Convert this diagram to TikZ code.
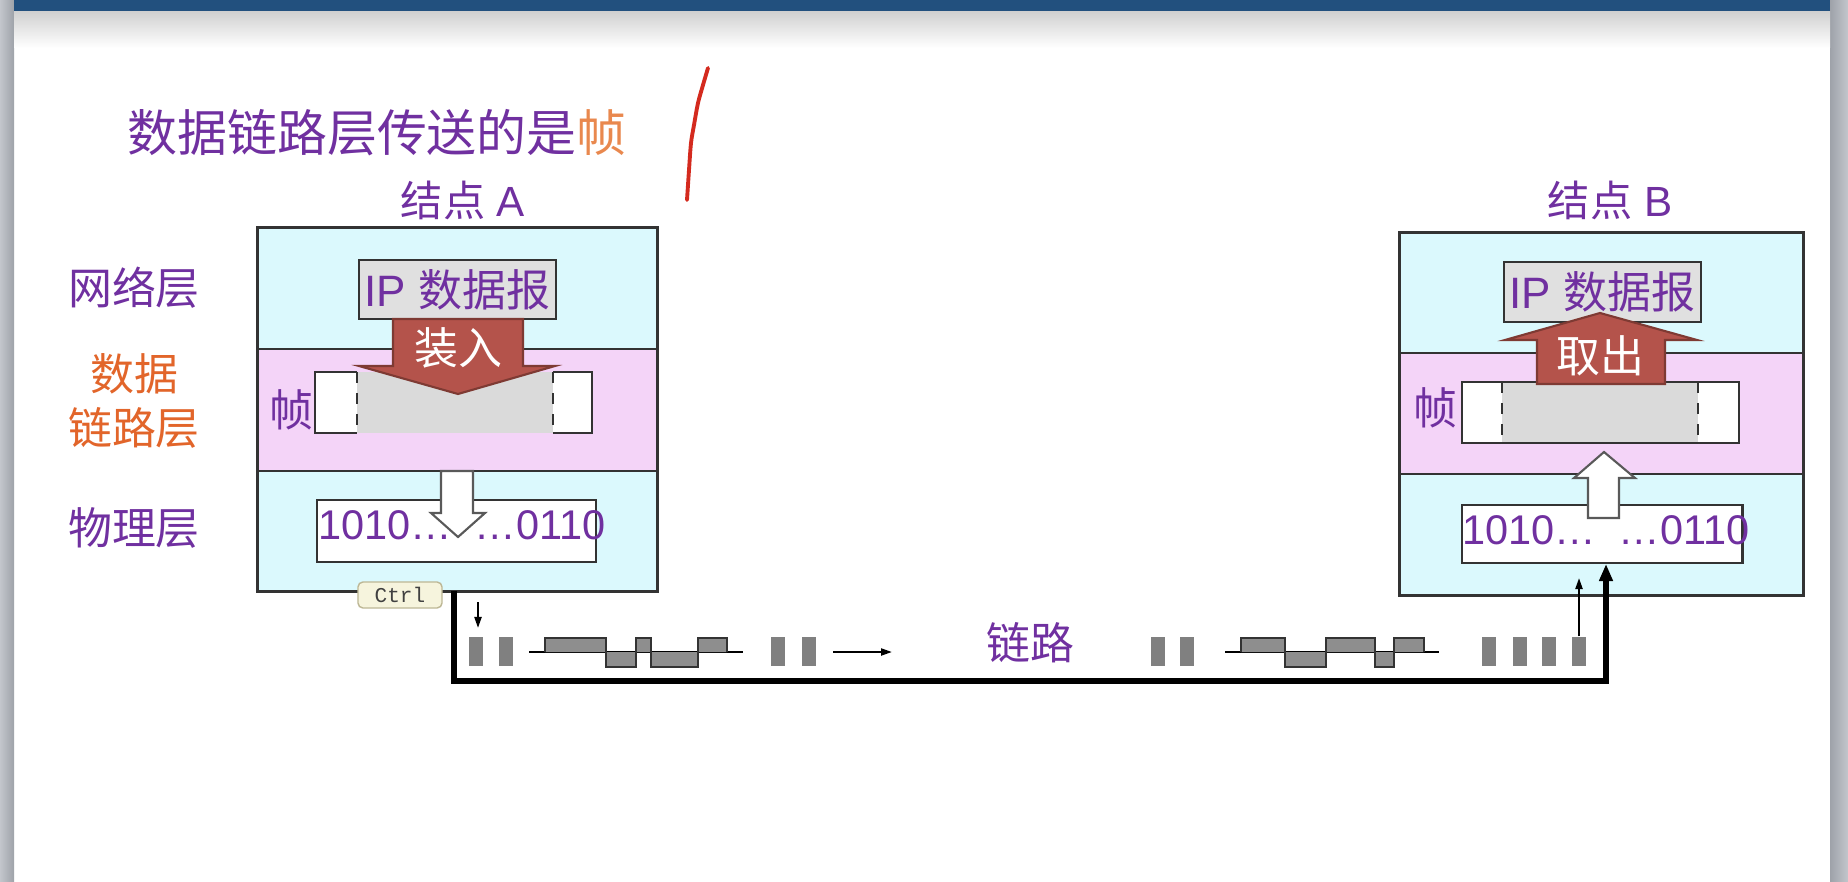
\documentclass[tikz,border=0pt]{standalone}
\usepackage{fontspec}
\setmainfont{Liberation Sans}
\setmonofont{Liberation Mono}
\newfontfamily\cjk{Noto Sans CJK SC}
\usetikzlibrary{arrows.meta}
\definecolor{purp}{HTML}{7030A0}
\definecolor{orng}{HTML}{E2652A}
\definecolor{orngL}{HTML}{E9884E}
\definecolor{cyanF}{HTML}{DBF9FD}
\definecolor{pinkF}{HTML}{F4D4F8}
\definecolor{grayF}{HTML}{DADADA}
\definecolor{ipF}{HTML}{E0E0E0}
\definecolor{brownA}{HTML}{B4534B}
\definecolor{brownB}{HTML}{7E3A33}
\definecolor{barG}{HTML}{808080}
\definecolor{waveG}{HTML}{8E8E8E}
\definecolor{hdrblue}{HTML}{22507E}
\definecolor{sideL}{HTML}{C3C6CC}
\definecolor{sideD}{HTML}{9EA2A9}
\definecolor{tipF}{HTML}{F6F4DD}
\definecolor{tipD}{HTML}{BDB795}
\definecolor{penred}{HTML}{D42A1E}
\definecolor{edge}{HTML}{333333}
\newcommand\fsTitle{\fontsize{14.2pt}{17pt}\selectfont}
\newcommand\fsLab{\fontsize{12.5pt}{15.2pt}\selectfont}
\newcommand\fsNode{\fontsize{12pt}{14pt}\selectfont}
\newcommand\fsBits{\fontsize{11.8pt}{14pt}\selectfont}
\begin{document}
\begin{tikzpicture}[x=0.01cm,y=-0.01cm,
  lbl/.style={inner sep=0pt, text=purp},
  box/.style={draw=edge, line width=0.8pt, inner sep=0pt},
  bigarrow/.style={fill=brownA, draw=brownB, line width=0.6pt},
  whitearrow/.style={fill=white, draw=gray!70!black, line width=0.6pt},
  bar/.style={fill=barG, inner sep=0pt, minimum width=0.14cm, minimum height=0.29cm},
  wave/.style={fill=waveG, draw=black!80, line width=0.7pt},
  thinarrow/.style={line width=0.6pt, -{Triangle[length=0.11cm,width=0.07cm]}},
  linkarrow/.style={line width=1.7pt, -{Triangle[length=0.17cm,width=0.13cm]}},
  divider/.style={draw=edge, line width=0.8pt},
]
\useasboundingbox (0,0) rectangle (1848,882);
\fill[white] (0,0) rectangle (1848,882);
% window frame
\shade[left color=sideL, right color=sideD] (0,0) rectangle (14,882);
\shade[left color=sideD, right color=sideL] (1830,0) rectangle (1848,882);
\fill[hdrblue] (14,0) rectangle (1830,12);
\shade[top color=black!18, bottom color=white] (14,12) rectangle (1830,48);

% title and pen stroke
\node[lbl, font=\fsTitle\cjk] (title) at (377,133) {数据链路层传送的是\textcolor{orngL}{帧}};
\draw[penred, line width=1.1pt, line cap=round] plot[smooth] coordinates {(708,68) (703,85) (698,103) (694,125) (691,143) (689,170) (687,200)};

% layer labels
\node[lbl, font=\fsLab\cjk] (netL) at (134,288) {网络层};
\node[lbl, font=\fsLab\cjk, text=orng, align=center] (dlL) at (134,401) {数据\\链路层};
\node[lbl, font=\fsLab\cjk] (phyL) at (134,528) {物理层};

% ---------------- node A ----------------
\node[lbl, font=\fsNode] (nameA) at (463,200) {{\cjk 结点} A};
\fill[cyanF] (258,228) rectangle (657,349);
\fill[pinkF] (258,349) rectangle (657,471);
\fill[cyanF] (258,471) rectangle (657,591);
\node[box, minimum width=3.99cm, minimum height=3.63cm] (boxA) at (457.5,409.5) {};
\draw[divider] (258,349) -- (657,349) (258,471) -- (657,471);

\node[box, fill=ipF, minimum width=1.97cm, minimum height=0.59cm, font=\fsLab, text=purp] (ipA) at (457.5,289.5) {IP {\cjk 数据报}};

% frame being filled
\fill[grayF] (357,372) rectangle (553,433);
\filldraw[fill=white, draw=edge, line width=0.8pt] (357,372) -- (315,372) -- (315,433) -- (357,433);
\filldraw[fill=white, draw=edge, line width=0.8pt] (553,372) -- (592,372) -- (592,433) -- (553,433);
\draw[edge, dashed, line width=0.8pt] (357,372) -- (357,433) (553,372) -- (553,433);
\node[lbl, font=\fsLab\cjk] (zhenA) at (291,410) {帧};

\filldraw[bigarrow] (393,319) -- (523,319) -- (523,366) -- (555,366) -- (458,394) -- (359,366) -- (393,366) -- cycle;
\node[inner sep=0pt, text=white, font=\fsLab\cjk] (loadT) at (458,348) {装入};

\node[box, fill=white, minimum width=2.79cm, minimum height=0.62cm] (phyA) at (456.5,531) {};
\node[lbl, font=\fsBits] (bitsA) at (462,525) {1010…\hspace{0.55em}…0110};
\filldraw[whitearrow] (441,471) -- (473,471) -- (473,513) -- (485,513) -- (458,537) -- (431,513) -- (441,513) -- cycle;

% ---------------- node B ----------------
\node[lbl, font=\fsNode] (nameB) at (1610,200) {{\cjk 结点} B};
\fill[cyanF] (1400,233) rectangle (1803,353);
\fill[pinkF] (1400,353) rectangle (1803,474);
\fill[cyanF] (1400,474) rectangle (1803,595);
\node[box, minimum width=4.03cm, minimum height=3.62cm] (boxB) at (1601.5,414) {};
\draw[divider] (1400,353) -- (1803,353) (1400,474) -- (1803,474);

\node[box, fill=ipF, minimum width=1.97cm, minimum height=0.60cm, font=\fsLab, text=purp] (ipB) at (1602.5,292) {IP {\cjk 数据报}};

\filldraw[fill=white, draw=edge, line width=0.8pt] (1462,382) rectangle (1739,443);
\fill[grayF] (1502,383) rectangle (1698,442);
\draw[edge, dashed, line width=0.8pt] (1502,382) -- (1502,443) (1698,382) -- (1698,443);
\node[lbl, font=\fsLab\cjk] (zhenB) at (1435,408) {帧};

\filldraw[bigarrow] (1537,384) -- (1665,384) -- (1665,340) -- (1697,340) -- (1600,313) -- (1505,340) -- (1537,340) -- cycle;
\node[inner sep=0pt, text=white, font=\fsLab\cjk] (takeT) at (1600,356) {取出};

\node[box, fill=white, minimum width=2.80cm, minimum height=0.58cm] (phyB) at (1602,534) {};
\node[lbl, font=\fsBits] (bitsB) at (1606,530) {1010…\hspace{0.55em}…0110};
\filldraw[whitearrow] (1588,518) -- (1619,518) -- (1619,478) -- (1635,478) -- (1604,452) -- (1574,478) -- (1588,478) -- cycle;

% ---------------- link ----------------
\foreach \i/\x in {1/476,2/506,3/778,4/809,5/1158,6/1187,7/1489,8/1520,9/1549,10/1579}
  \node[bar] (bar\i) at (\x,651.5) {};

\draw[line width=0.7pt] (529,652) -- (743,652);
\filldraw[wave] (545,652) -- (545,638) -- (606,638) -- (606,667) -- (636,667) -- (636,638) -- (651,638) -- (651,667) -- (698,667) -- (698,638) -- (727,638) -- (727,652);
\draw[line width=0.7pt] (1225,652) -- (1439,652);
\filldraw[wave] (1241,652) -- (1241,638) -- (1285,638) -- (1285,667) -- (1326,667) -- (1326,638) -- (1375,638) -- (1375,667) -- (1394,667) -- (1394,638) -- (1424,638) -- (1424,652);

\coordinate (rA) at (833,652);
\coordinate (rB) at (892,652);
\draw[thinarrow] (rA) -- (rB);

\node[lbl, font=\fsLab\cjk] (linkL) at (1030,643) {链路};

\coordinate (lA) at (454,591);
\coordinate (cA) at (454,681);
\coordinate (cB) at (1606,681);
\coordinate (lB) at (1606,564);
\draw[linkarrow] (lA) -- (cA) -- (cB) -- (lB);

\coordinate (tA) at (478,602);
\coordinate (tAend) at (478,628);
\draw[thinarrow] (tA) -- (tAend);
\coordinate (tBend) at (1579,578);
\draw[thinarrow] (bar10.north) -- (tBend);

% tooltip
\node[draw=tipD, fill=tipF, rounded corners=0.05cm, minimum width=0.84cm, minimum height=0.26cm, inner sep=0pt, font=\ttfamily\fontsize{6pt}{7pt}\selectfont, text=black!75] (ctrl) at (400,595) {Ctrl};
\end{tikzpicture}
\end{document}
